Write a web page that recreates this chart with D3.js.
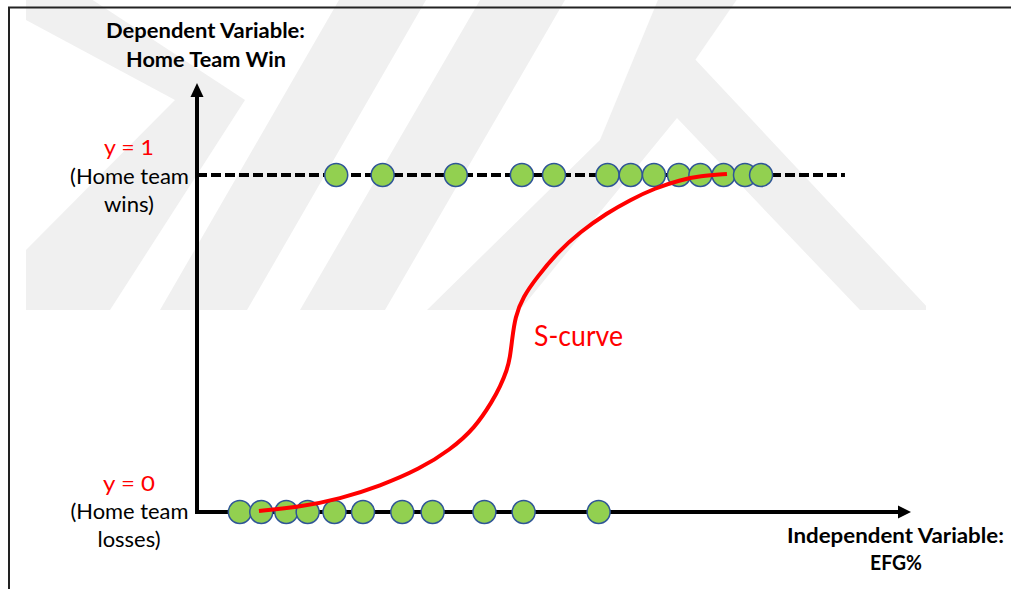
<!DOCTYPE html>
<html><head><meta charset="utf-8">
<script src="https://cdn.jsdelivr.net/npm/d3@7"></script>
<style>body{margin:0;background:#fff} svg{display:block}</style>
</head><body>
<svg id="c" width="1011" height="589"></svg>
<script>
// ---- data (EFG% on x, outcome on y) ----
const winsEFG   = [37.8, 40.4, 44.5, 48.2, 50.0, 53.0, 54.3, 55.6, 57.0, 58.2, 59.5, 60.7, 61.6];
const lossesEFG = [32.4, 33.6, 35.0, 36.2, 37.7, 39.3, 41.5, 43.2, 46.1, 48.3, 52.5];
const curveEFG  = [33.47, 35.77, 38.01, 40.25, 42.49, 44.17, 45.57, 46.58, 46.97, 47.37, 47.54, 47.65, 47.82, 48.26, 49.05, 50.17, 51.46, 52.97, 54.26, 55.66, 57.06, 58.18, 59.69];
const curveProb = [0.003, 0.015, 0.039, 0.077, 0.128, 0.184, 0.249, 0.332, 0.371, 0.421, 0.460, 0.510, 0.579, 0.638, 0.697, 0.769, 0.831, 0.887, 0.926, 0.961, 0.985, 0.997, 1.003];
const yTop = 1.273;
const dashEnd = 66.3;

const svg = d3.select("#c");
const x = d3.scaleLinear().domain([30, 70]).range([197, 911]);
const y = d3.scaleLinear().domain([0, 1]).range([512, 175]);

// ---- watermark (approximate) ----
svg.append("clipPath").attr("id","wmclip").append("rect").attr("x",26).attr("y",0).attr("width",900).attr("height",310);
const wm = svg.append("g").attr("clip-path","url(#wmclip)").attr("fill","#f0f0f0");
const wmPolys = [
  [[26,-5],[85,-5],[245,100],[110,310],[26,310],[26,250],[175,100],[26,20]],
  [[160,310],[247,310],[426,0],[339,0]],
  [[300,310],[385,310],[565,0],[480,0]],
  [[427,310],[520,310],[677,118],[860,310],[930,310],[677,40],[600,140]],
  [[600,140],[640,140],[740,-5],[660,-5]]
];
wm.selectAll("polygon").data(wmPolys).join("polygon").attr("points", d => d.map(p => p.join(",")).join(" "));

// ---- frame ----
svg.append("path").attr("d","M9,589 V7.5 H1011").attr("fill","none").attr("stroke","#222").attr("stroke-width",2);

// ---- axes ----
svg.append("line").attr("x1",x(30)).attr("x2",x(30)).attr("y1",y(0)+2).attr("y2",y(yTop)+12)
  .attr("stroke","#000").attr("stroke-width",4);
svg.append("line").attr("x1",x(30)-2).attr("x2",x(70)-11).attr("y1",y(0)).attr("y2",y(0))
  .attr("stroke","#000").attr("stroke-width",4);
svg.append("polygon").attr("points",[[x(30),y(yTop)],[x(30)-6.5,y(yTop)+14],[x(30)+6.5,y(yTop)+14]].map(p=>p.join(",")).join(" ")).attr("fill","#000");
svg.append("polygon").attr("points",[[x(70),y(0)],[x(70)-13,y(0)-6.5],[x(70)-13,y(0)+6.5]].map(p=>p.join(",")).join(" ")).attr("fill","#000");

// dashed y=1 line
svg.append("line").attr("x1",x(30)).attr("x2",x(dashEnd)).attr("y1",y(1)).attr("y2",y(1))
  .attr("stroke","#000").attr("stroke-width",4).attr("stroke-dasharray","10,4");

// ---- points ----
const r = 11.5;
svg.append("g").selectAll("circle").data(winsEFG).join("circle")
  .attr("cx", d => x(d)).attr("cy", y(1)).attr("r", r)
  .attr("fill","#92d050").attr("stroke","#2f5597").attr("stroke-width",1.5);
svg.append("g").selectAll("circle").data(lossesEFG).join("circle")
  .attr("cx", d => x(d)).attr("cy", y(0)).attr("r", r)
  .attr("fill","#92d050").attr("stroke","#2f5597").attr("stroke-width",1.5);

// ---- S-curve ----
const line = d3.line().x(d => x(d[0])).y(d => y(d[1])).curve(d3.curveBasis);
svg.append("path").datum(curveEFG.map((v,i)=>[v, curveProb[i]]))
  .attr("d", line).attr("fill","none").attr("stroke","#ff0000").attr("stroke-width",4);

// ---- text ----
const F = "Lato, 'Open Sans', sans-serif";
const texts = [
  {t:"Dependent Variable:", x:205.5, y:38, s:20, w:"bold", c:"#000", len:199, a:"middle"},
  {t:"Home Team Win", x:206, y:67, s:20, w:"bold", c:"#000", len:160, a:"middle"},
  {t:"y = 1", x:129, y:155, s:21, w:"normal", c:"#ff0000", len:50, a:"middle"},
  {t:"(Home team", x:129.5, y:184, s:21, w:"normal", c:"#000", len:119, a:"middle"},
  {t:"wins)", x:129, y:212, s:21, w:"normal", c:"#000", len:50, a:"middle"},
  {t:"y = 0", x:129, y:491, s:21, w:"normal", c:"#ff0000", len:52, a:"middle"},
  {t:"(Home team", x:129.5, y:519, s:21, w:"normal", c:"#000", len:118, a:"middle"},
  {t:"losses)", x:129, y:547, s:21, w:"normal", c:"#000", len:63, a:"middle"},
  {t:"Independent Variable:", x:895.5, y:543, s:20, w:"bold", c:"#000", len:217, a:"middle"},
  {t:"EFG%", x:896, y:570, s:20, w:"bold", c:"#000", len:52, a:"middle"},
  {t:"S-curve", x:534, y:346, s:28.5, w:"normal", c:"#ff0000", len:89, a:"start"}
];
svg.append("g").selectAll("text").data(texts).join("text")
  .attr("x", d=>d.x).attr("y", d=>d.y).attr("text-anchor", d=>d.a)
  .attr("font-family", F).attr("font-size", d=>d.s).attr("font-weight", d=>d.w)
  .attr("fill", d=>d.c).attr("textLength", d=>d.len).attr("lengthAdjust","spacingAndGlyphs")
  .text(d=>d.t);
</script>
</body></html>
